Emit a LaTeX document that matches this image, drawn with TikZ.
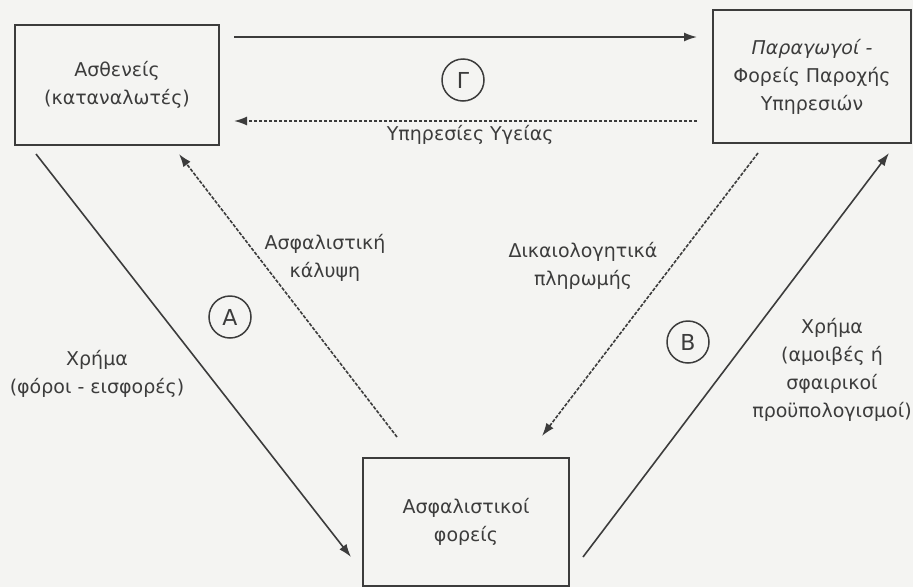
\documentclass[tikz,border=0pt]{standalone}
\usepackage{fontspec}
\setmainfont{DejaVu Sans}
\usepackage{tikz}
\usetikzlibrary{positioning,arrows.meta,calc}
\definecolor{ink}{RGB}{60,60,60}
\definecolor{paper}{RGB}{244,244,242}
\tikzset{
  box/.style={draw=ink, line width=2pt, minimum width=204pt, minimum height=120pt, align=center},
  lbl/.style={align=center, text=ink},
  circ/.style={circle, draw=ink, line width=1.5pt, inner sep=0pt, minimum size=42pt, font=\fontsize{22}{26}\selectfont},
  flow/.style={-{Latex[length=13pt,width=9pt]}, draw=ink, line width=1.6pt},
  dflow/.style={flow, dash pattern=on 3.5pt off 1.5pt},
}

\begin{document}
\begin{tikzpicture}[x=1pt, y=-1pt, font=\fontsize{19}{28}\selectfont, text=ink]
\fill[paper] (0,0) rectangle (913,587);
\useasboundingbox (0,0) rectangle (913,587);

\node (pat)  [box] at (117,85) {Ασθενείς\\(καταναλωτές)};
\node (prov) [box, minimum width=198pt, minimum height=133pt] at (812,76.5)
  {\textit{Παραγωγοί -}\\Φορείς Παροχής\\Υπηρεσιών};
\node (ins)  [box, minimum width=206pt, minimum height=128pt] at (466,522) {Ασφαλιστικοί\\φορείς};

\node (g) [circ] at (463,80)  {Γ};
\node (a) [circ] at (230,317) {Α};
\node (b) [circ] at (688,342) {Β};

% top pair
\coordinate (g1) at ($(pat.north east)+(14,13)$);
\coordinate (g2) at ($(prov.west |- g1)+(-15,0)$);
\draw[flow] (g1) -- (g2);
\coordinate (s1) at ($(g2)+(0,84)$);
\coordinate (s2) at ($(g1)+(0,84)$);
\draw[dflow] (s1) -- (s2);
\node (serv) [lbl, below=1pt of $(s1)!0.49!(s2)$] {Υπηρεσίες Υγείας};

% left pair
\coordinate (a1) at ($(pat.south west)+(22,8)$);
\coordinate (a2) at ($(ins.west)+(-11,35)$);
\draw[flow] (a1) -- (a2);
\coordinate (c1) at ($(ins.north west)+(35,-20)$);
\coordinate (c2) at ($(pat.south east)+(-41,8)$);
\draw[dflow] (c1) -- (c2);
\node (cover) [lbl] at (325,258) {Ασφαλιστική\\κάλυψη};
\node (tax)   [lbl] at (97,374) {Χρήμα\\(φόροι - εισφορές)};

% right pair
\coordinate (d1) at ($(prov.south west)+(46,9)$);
\coordinate (d2) at ($(ins.north east)+(-28,-21)$);
\draw[dflow] (d1) -- (d2);
\coordinate (b1) at ($(ins.east)+(13,35)$);
\coordinate (b2) at ($(prov.south east)+(-23,9)$);
\draw[flow] (b1) -- (b2);
\node (docs) [lbl] at (583,266) {Δικαιολογητικά\\πληρωμής};
\node (fees) [lbl] at (832,370) {Χρήμα\\(αμοιβές ή\\σφαιρικοί\\προϋπολογισμοί)};
\end{tikzpicture}
\end{document}
